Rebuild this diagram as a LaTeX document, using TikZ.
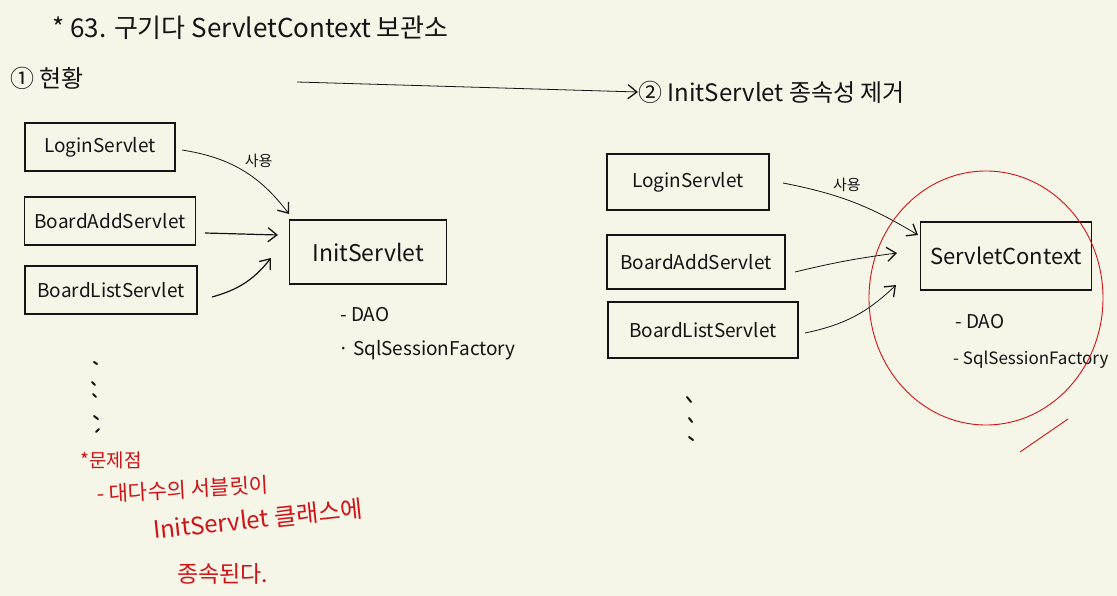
\documentclass[tikz,border=0pt]{standalone}
\usepackage{fontspec}
\setmainfont{Noto Sans CJK KR}
\usetikzlibrary{arrows.meta}
\definecolor{paper}{RGB}{245,245,232}
\definecolor{ink}{RGB}{20,20,20}
\definecolor{redink}{RGB}{205,20,25}
\tikzset{
  every node/.style={inner sep=0pt, text=ink},
  srv/.style={draw=ink, line width=1.1pt, minimum height=48pt, inner xsep=10pt, font=\fontsize{19}{22}\selectfont},
  hand/.style={font=\fontsize{19}{22}\selectfont},
  conn/.style={draw=ink, line width=1.2pt, -{Straight Barb[length=9pt,width=14pt,line width=1.3pt]}},
  thin conn/.style={draw=ink, line width=0.8pt, -{Straight Barb[length=9pt,width=14pt,line width=1.3pt]}},
  redtxt/.style={text=redink, font=\fontsize{21}{24}\selectfont},
  dashmark/.style={draw=ink, line width=2pt, line cap=round},
}
\begin{document}
\begin{tikzpicture}[x=1pt,y=-1pt]
\fill[paper] (0,0) rectangle (1117,596);
\useasboundingbox (0,0) rectangle (1117,596);

% title
\node[anchor=west, font=\fontsize{26}{30}\selectfont] (title) at (52,28) {* 63. 구기다 ServletContext 보관소};
\node[anchor=west, font=\fontsize{24}{28}\selectfont] (s1) at (10,78) {① 현황};
\node[anchor=west, font=\fontsize{24}{28}\selectfont] (s2) at (638,92) {② InitServlet 종속성 제거};
\coordinate (arrS) at (297,82);
\draw[thin conn] (arrS) -- (s2.west);

% left side
\node[srv, minimum width=150pt] (lLogin) at (100,147) {LoginServlet};
\node[srv, minimum width=165pt] (lAdd) at (110,221) {BoardAddServlet};
\node[srv, minimum width=172pt] (lList) at (111,290) {BoardListServlet};
\node[srv, minimum width=157pt, minimum height=64pt, font=\fontsize{23}{26}\selectfont] (lInit) at (368,252) {InitServlet};

\coordinate (lLoginS) at (182,150);
\coordinate (lLoginT) at (289,214);
\coordinate (lAddS) at (205,233);
\coordinate (lAddT) at (278,235);
\coordinate (lListS) at (212,297);
\coordinate (lListT) at (271,258);
\draw[thin conn] (lLoginS) to[bend left=22] node[pos=0.5, above right=2pt, hand, font=\fontsize{15}{18}\selectfont] (lUse) {사용} (lLoginT);
\draw[conn] (lAddS) -- (lAddT);
\draw[conn] (lListS) to[bend right=18] (lListT);

\node[hand, anchor=west] (lDao) at (340,315) {- DAO};
\node[hand, anchor=west] (lSql) at (338,350) {· SqlSessionFactory};

\draw[dashmark] (94,362) -- (97,364);
\draw[dashmark] (92,382) -- (95,385);
\draw[dashmark] (93,394) -- (96,397);
\draw[dashmark] (94,416) -- (98,419);
\draw[dashmark] (96,432) -- (99,429);

% red notes
\node[redtxt, anchor=west, font=\fontsize{19}{22}\selectfont] (r1) at (80,460) {*문제점};
\node[redtxt, anchor=west, rotate=3] (r2) at (97,494) {- 대다수의 서블릿이};
\node[redtxt, anchor=west, rotate=6, font=\fontsize{24}{27}\selectfont] (r3) at (153,530) {InitServlet 클래스에};
\node[redtxt, anchor=west, font=\fontsize{23}{26}\selectfont] (r4) at (177,574) {종속된다.};

% right side
\node[srv, minimum width=162pt, minimum height=56pt] (rLogin) at (688,182) {LoginServlet};
\node[srv, minimum width=178pt, minimum height=54pt] (rAdd) at (696,262) {BoardAddServlet};
\node[srv, minimum width=190pt, minimum height=56pt] (rList) at (703,330) {BoardListServlet};
\node[srv, minimum width=157pt, minimum height=68pt, font=\fontsize{22}{26}\selectfont] (rCtx) at (1006,256) {ServletContext};

\coordinate (rLoginS) at (783,183);
\coordinate (rLoginT) at (918,235);
\coordinate (rAddS) at (795,272);
\coordinate (rAddT) at (897,253);
\coordinate (rListS) at (805,333);
\coordinate (rListT) at (896,285);
\draw[thin conn] (rLoginS) to[bend left=10] node[pos=0.45, above=8pt, hand, font=\fontsize{15}{18}\selectfont] (rUse) {사용} (rLoginT);
\draw[thin conn] (rAddS) to[bend left=3] (rAddT);
\draw[thin conn] (rListS) to[bend right=16] (rListT);

\node[hand, anchor=west] (rDao) at (955,322) {- DAO};
\node[hand, anchor=west, font=\fontsize{17}{20}\selectfont] (rSql) at (953,360) {- SqlSessionFactory};

\draw[redink, line width=0.9pt] (986,298) ellipse [x radius=117, y radius=127];
\coordinate (tailA) at (1020,452);
\coordinate (tailB) at (1068,419);
\draw[redink, line width=0.9pt] (tailA) -- (tailB);

\draw[dashmark] (687,397) -- (691,402);
\draw[dashmark] (689,418) -- (692,422);
\draw[dashmark] (689,437) -- (693,440);
\end{tikzpicture}
\end{document}
